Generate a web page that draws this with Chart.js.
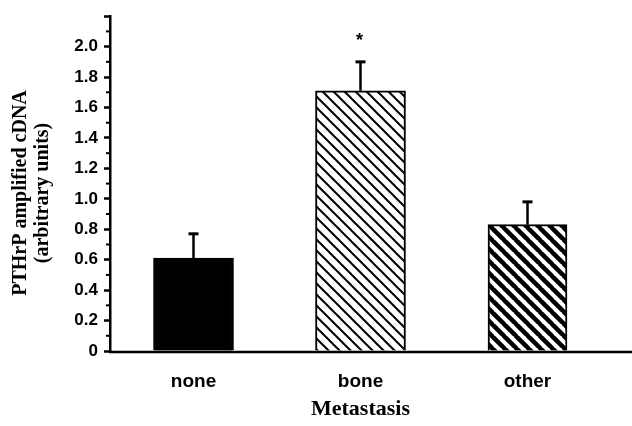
<!DOCTYPE html>
<html>
<head>
<meta charset="utf-8">
<script src="https://cdn.jsdelivr.net/npm/chart.js@4.4.1/dist/chart.umd.min.js"></script>
<style>
body{margin:0;background:#fff;}
#graf{display:block;}
</style>
</head>
<body>
<canvas id="graf" width="632" height="426"></canvas>
<script>
const CATEGORIAS = ['none', 'bone', 'other'];
const MEDIAS = [0.61, 1.71, 0.83];
const ERROS = [0.16, 0.19, 0.15];
const MARCAS = ['', '*', ''];
const ROTULOS_Y = ['0', '0.2', '0.4', '0.6', '0.8', '1.0', '1.2', '1.4', '1.6', '1.8', '2.0'];
const TITULO_Y = ['PTHrP amplified cDNA', '(arbitrary units)'];
const TITULO_X = 'Metastasis';

// estilos de cada barra
const LARGURAS = [80, 90, 79];

function hachura(passo, espessura){
    let c = document.createElement('canvas');
    c.width = passo; c.height = passo;
    let g = c.getContext('2d');
    g.fillStyle = '#fff';
    g.fillRect(0, 0, passo, passo);
    g.strokeStyle = '#000';
    g.lineWidth = espessura;
    [-passo, 0, passo].forEach(o => {
        g.beginPath();
        g.moveTo(o - 1, -1);
        g.lineTo(o + passo + 1, passo + 1);
        g.stroke();
    });
    return g.createPattern(c, 'repeat');
}

const PREENCH = ['#000', hachura(11, 2), hachura(12, 4.5)];

function ehMaior(v){
    return Math.round(v * 10) % 2 === 0;
}

const extras = {
    id: 'extras',
    afterDatasetsDraw(chart){
        const {ctx, chartArea, scales: {y}} = chart;
        ctx.save();
        ctx.strokeStyle = '#000';
        ctx.fillStyle = '#000';
        // ticks menores
        ctx.lineWidth = 2;
        y.ticks.forEach(t => {
            if (!ehMaior(t.value)) {
                let py = y.getPixelForValue(t.value);
                ctx.beginPath();
                ctx.moveTo(chartArea.left - 4, py);
                ctx.lineTo(chartArea.left, py);
                ctx.stroke();
            }
        });
        // barras de erro
        CATEGORIAS.forEach((c, i) => {
            let bar = chart.getDatasetMeta(i).data[i];
            let px = bar.x;
            let topo = y.getPixelForValue(MEDIAS[i] + ERROS[i]);
            ctx.lineWidth = 2.5;
            ctx.beginPath();
            ctx.moveTo(px, bar.y);
            ctx.lineTo(px, topo);
            ctx.stroke();
            ctx.lineWidth = 3;
            ctx.beginPath();
            ctx.moveTo(px - 5, topo);
            ctx.lineTo(px + 5, topo);
            ctx.stroke();
            if (MARCAS[i]) {
                ctx.font = 'bold 18px "Liberation Sans"';
                ctx.textAlign = 'center';
                ctx.textBaseline = 'alphabetic';
                ctx.fillText(MARCAS[i], px - 1, topo - 16);
            }
        });
        // eixo x
        let y0 = y.getPixelForValue(0);
        ctx.lineWidth = 2.5;
        ctx.beginPath();
        ctx.moveTo(chartArea.left - 1, y0 + 1);
        ctx.lineTo(chart.width, y0 + 1);
        ctx.stroke();
        // titulo y
        ctx.translate(21, 193);
        ctx.rotate(-Math.PI / 2);
        ctx.font = 'bold 20px "Liberation Serif"';
        ctx.textAlign = 'center';
        ctx.textBaseline = 'middle';
        ctx.fillText(TITULO_Y[0], 0, 0);
        ctx.fillText(TITULO_Y[1], 0, 22);
        ctx.restore();
    }
};

function grafico(){
    let ctx = document.getElementById('graf');
    let datasets = CATEGORIAS.map((c, i) => ({
        label: c,
        data: MEDIAS.map((v, j) => j === i ? v : null),
        backgroundColor: PREENCH[i],
        borderColor: '#000',
        borderWidth: 2,
        barThickness: LARGURAS[i],
        grouped: false
    }));
    let config = {
        type: 'bar',
        data: {
            labels: CATEGORIAS,
            datasets: datasets
        },
        options: {
            responsive: false,
            animation: false,
            layout: {
                padding: {top: 12, right: 21, left: 0, bottom: 0}
            },
            scales: {
                x: {
                    afterFit(s){ s.height = 75; },
                    grid: {display: false, drawTicks: false},
                    border: {display: false},
                    ticks: {
                        padding: 19,
                        color: '#000',
                        font: {family: 'Liberation Sans', size: 19, weight: 'bold'}
                    },
                    title: {
                        display: true,
                        text: TITULO_X,
                        color: '#000',
                        padding: {top: 0, bottom: 3},
                        font: {family: 'Liberation Serif', size: 22, weight: 'bold'}
                    }
                },
                y: {
                    min: 0,
                    max: 2.2,
                    afterFit(s){ s.width = 110; },
                    border: {display: true, color: '#000', width: 2.5},
                    grid: {
                        drawOnChartArea: false,
                        drawTicks: true,
                        tickLength: 6,
                        tickWidth: 2.5,
                        tickColor: c => ehMaior(c.tick.value) ? '#000' : 'rgba(0,0,0,0)'
                    },
                    ticks: {
                        stepSize: 0.1,
                        autoSkip: false,
                        padding: 6,
                        color: '#000',
                        font: {family: 'Liberation Sans', size: 17, weight: 'bold'},
                        callback: v => {
                            let k = Math.round(v * 5);
                            return (ehMaior(v) && k < ROTULOS_Y.length) ? ROTULOS_Y[k] : '';
                        }
                    }
                }
            },
            plugins: {
                legend: {display: false},
                tooltip: {enabled: false}
            }
        },
        plugins: [extras]
    };
    new Chart(ctx, config);
}
grafico();
</script>
</body>
</html>
